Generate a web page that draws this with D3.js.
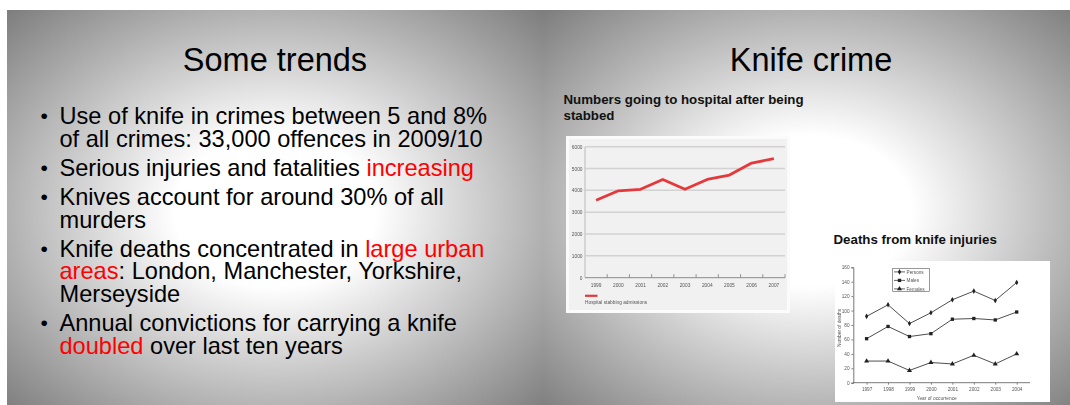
<!DOCTYPE html>
<html>
<head>
<meta charset="utf-8">
<script src="https://cdn.jsdelivr.net/npm/d3@7"></script>
<style>
  html, body { margin: 0; padding: 0; background: #fff; }
  svg { display: block; font-family: "Liberation Sans", Arial, sans-serif; }
</style>
</head>
<body>
<svg id="slides" width="1070" height="405"></svg>
<script>
// Hospital admissions for stab wounds, England
const hospYears = ["1999", "2000", "2001", "2002", "2003", "2004", "2005", "2006", "2007"];
const hospAdmissions = [3550, 3980, 4050, 4500, 4050, 4500, 4700, 5250, 5450];
const hospTicks = [0, 1000, 2000, 3000, 4000, 5000, 6000];
const hospSeriesName = "Hospital stabbing admissions";

// Deaths from knife injuries by year of occurrence
const deathYears = ["1997", "1998", "1999", "2000", "2001", "2002", "2003", "2004"];
const persons = [92, 108, 82, 97, 115, 127, 114, 139];
const males = [61, 78, 64, 68, 88, 89, 87, 98];
const females = [30, 30, 17, 28, 26, 38, 26, 40];
const deathTicks = [0, 20, 40, 60, 80, 100, 120, 140, 160];
const deathSeriesNames = ["Persons", "Males", "Females"];

// Left slide bullet points: each bullet is a list of lines, each line a list of [text, highlighted]
const bullets = [
  [[["Use of knife in crimes between 5 and 8%", false]],
   [["of all crimes: 33,000 offences in 2009/10", false]]],
  [[["Serious injuries and fatalities ", false], ["increasing", true]]],
  [[["Knives account for around 30% of all", false]],
   [["murders", false]]],
  [[["Knife deaths concentrated in ", false], ["large urban", true]],
   [["areas", true], [": London, Manchester, Yorkshire,", false]],
   [["Merseyside", false]]],
  [[["Annual convictions for carrying a knife", false]],
   [["doubled", true], [" over last ten years", false]]]
];

const svg = d3.select("#slides");
const defs = svg.append("defs");

// Slide background: white centre fading to grey
const grad = defs.append("radialGradient")
  .attr("id", "slideBg")
  .attr("cx", 0.5).attr("cy", 0.5).attr("r", 0.72);
grad.append("stop").attr("offset", 0.26).attr("stop-color", "#ffffff");
grad.append("stop").attr("offset", 1).attr("stop-color", "#7a7a7a");

// Soft look of the pasted chart pictures
const soft = defs.append("filter").attr("id", "soft")
  .attr("x", "-5%").attr("y", "-5%").attr("width", "110%").attr("height", "110%");
soft.append("feGaussianBlur").attr("stdDeviation", 0.45);

const slideW = 536, slideH = 402;
const slides = [{x: 7, y: 10, title: "Some trends"}, {x: 543, y: 10, title: "Knife crime"}];

svg.selectAll("rect.slide").data(slides).join("rect")
  .attr("class", "slide")
  .attr("x", d => d.x).attr("y", d => d.y)
  .attr("width", slideW).attr("height", slideH)
  .attr("fill", "url(#slideBg)");

svg.selectAll("text.title").data(slides).join("text")
  .attr("class", "title")
  .attr("x", d => d.x + slideW / 2)
  .attr("y", 71)
  .attr("text-anchor", "middle")
  .attr("font-size", 32.5)
  .attr("fill", "#000")
  .text(d => d.title);

// ---- Bullet list: one text block per bullet, one tspan row per line ----
const bulletFont = 23.6;
const lineGap = 22.5, bulletGap = 29.3;
let baseY = 124;
const list = svg.append("g").attr("font-size", bulletFont);
bullets.forEach(b => {
  list.append("text").attr("x", 40.5).attr("y", baseY - 1).attr("font-size", 21).text("•");
  const t = list.append("text").attr("y", baseY);
  b.forEach((line, i) => {
    line.forEach(([s, hi], j) => {
      const sp = t.append("tspan").attr("fill", hi ? "#ff0000" : "#000").text(s);
      if (j === 0) sp.attr("x", 59.5).attr("dy", i === 0 ? 0 : lineGap);
    });
  });
  baseY += (b.length - 1) * lineGap + bulletGap;
});

// ---- Chart subtitles ----
const sub = svg.append("g").attr("font-size", 13.3).attr("font-weight", "bold").attr("fill", "#111");
const sub1 = sub.append("text").attr("y", 104.3);
sub1.append("tspan").attr("x", 563.5).text("Numbers going to hospital after being");
sub1.append("tspan").attr("x", 563.5).attr("dy", 15.7).text("stabbed");
sub.append("text").attr("x", 833.5).attr("y", 243.5).text("Deaths from knife injuries");

// ---- Chart 1: hospital admissions ----
const c1 = svg.append("g").attr("filter", "url(#soft)");
c1.append("rect").attr("x", 566).attr("y", 136).attr("width", 224).attr("height", 177).attr("fill", "#fbfbfb");
c1.append("rect").attr("x", 569).attr("y", 139).attr("width", 218).attr("height", 171).attr("fill", "#f1f1f1");

const x1 = d3.scaleBand().domain(hospYears).range([585, 785]);
const y1 = d3.scaleLinear().domain([0, 6000]).range([277.7, 146.7]);

c1.append("g").selectAll("line").data(hospTicks.filter(v => v > 0)).join("line")
  .attr("x1", 585).attr("x2", 785)
  .attr("y1", d => y1(d)).attr("y2", d => y1(d))
  .attr("stroke", "#d2d2d2").attr("stroke-width", 1.5);

c1.append("line").attr("x1", 585).attr("x2", 585).attr("y1", y1(6000)).attr("y2", y1(0))
  .attr("stroke", "#c4c4c4").attr("stroke-width", 1.2);

const yAxis1 = c1.append("g").attr("transform", "translate(585,0)")
  .call(d3.axisLeft(y1).tickValues(hospTicks).tickSize(0).tickPadding(2.5).tickFormat(d3.format("d")));
yAxis1.select(".domain").remove();
yAxis1.selectAll("text").attr("font-size", 4.8).attr("fill", "#555").attr("font-family", "Liberation Sans, Arial, sans-serif");

// x axis with upward ticks at band boundaries
c1.append("line").attr("x1", 585).attr("x2", 785).attr("y1", y1(0)).attr("y2", y1(0))
  .attr("stroke", "#8a8a8a").attr("stroke-width", 1);
c1.append("g").selectAll("line").data(hospYears.slice(1).concat(["end"])).join("line")
  .attr("x1", d => d === "end" ? 785 : x1(d)).attr("x2", d => d === "end" ? 785 : x1(d))
  .attr("y1", y1(0)).attr("y2", y1(0) - 3.5)
  .attr("stroke", "#8a8a8a").attr("stroke-width", 0.9);
c1.append("g").selectAll("text").data(hospYears).join("text")
  .attr("x", d => x1(d) + x1.bandwidth() / 2).attr("y", 286.5)
  .attr("text-anchor", "middle").attr("font-size", 4.8).attr("fill", "#555")
  .text(d => d);

const line1 = d3.line().x((d, i) => x1(hospYears[i]) + x1.bandwidth() / 2).y(d => y1(d));
c1.append("path").datum(hospAdmissions)
  .attr("d", line1).attr("fill", "none")
  .attr("stroke", "#e5383b").attr("stroke-width", 2.8).attr("stroke-linejoin", "round");

c1.append("line").attr("x1", 585).attr("x2", 597.5).attr("y1", 295.8).attr("y2", 295.8)
  .attr("stroke", "#e5383b").attr("stroke-width", 2.2);
c1.append("text").attr("x", 585).attr("y", 303.5).attr("font-size", 4.8).attr("fill", "#555")
  .text(hospSeriesName);

// ---- Chart 2: deaths from knife injuries ----
const c2 = svg.append("g").attr("filter", "url(#soft)");
c2.append("rect").attr("x", 835).attr("y", 261).attr("width", 215).attr("height", 141).attr("fill", "#fff");

const x2 = d3.scalePoint().domain(deathYears).range([853.3, 1030]).padding(0.62);
const y2 = d3.scaleLinear().domain([0, 160]).range([382.7, 267.3]);

const yAxis2 = c2.append("g").attr("transform", "translate(853.3,0)")
  .call(d3.axisLeft(y2).tickValues(deathTicks).tickSize(2).tickPadding(1.8));
const xAxis2 = c2.append("g").attr("transform", `translate(0,${y2(0)})`)
  .call(d3.axisBottom(x2).tickSize(2).tickPadding(3.2));
// extend the baseline to the plot edge
xAxis2.select(".domain").attr("d", `M853.3,0H1030`);
[yAxis2, xAxis2].forEach(a => {
  a.select(".domain").attr("stroke", "#555").attr("stroke-width", 0.8);
  a.selectAll(".tick line").attr("stroke", "#555").attr("stroke-width", 0.7);
  a.selectAll("text").attr("font-size", 4.7).attr("fill", "#555").attr("font-family", "Liberation Sans, Arial, sans-serif");
});

c2.append("text").attr("x", 936.7).attr("y", 399.5).attr("text-anchor", "middle")
  .attr("font-size", 4.8).attr("fill", "#555").text("Year of occurrence");
c2.append("text").attr("transform", "translate(840.8,328) rotate(-90)").attr("text-anchor", "middle")
  .attr("font-size", 4.8).attr("fill", "#555").text("Number of deaths");

const series2 = [
  {name: deathSeriesNames[0], values: persons, sym: d3.symbolDiamond, size: 9},
  {name: deathSeriesNames[1], values: males, sym: d3.symbolSquare, size: 11},
  {name: deathSeriesNames[2], values: females, sym: d3.symbolTriangle, size: 11}
];
const line2 = d3.line().x((d, i) => x2(deathYears[i])).y(d => y2(d));
series2.forEach(s => {
  c2.append("path").datum(s.values).attr("d", line2).attr("fill", "none")
    .attr("stroke", "#3a3a3a").attr("stroke-width", 0.9);
  c2.append("g").selectAll("path").data(s.values).join("path")
    .attr("transform", (d, i) => `translate(${x2(deathYears[i])},${y2(d)})`)
    .attr("d", d3.symbol(s.sym, s.size)).attr("fill", "#222");
});

// legend
const lg = c2.append("g");
lg.append("rect").attr("x", 892.7).attr("y", 268.3).attr("width", 36.6).attr("height", 23.4)
  .attr("fill", "#fff").attr("stroke", "#555").attr("stroke-width", 0.6);
series2.forEach((s, i) => {
  const ly = 271.9 + i * 8.5;
  lg.append("line").attr("x1", 894).attr("x2", 905).attr("y1", ly).attr("y2", ly)
    .attr("stroke", "#3a3a3a").attr("stroke-width", 0.8);
  lg.append("path").attr("transform", `translate(899.5,${ly})`).attr("d", d3.symbol(s.sym, s.size)).attr("fill", "#222");
  lg.append("text").attr("x", 906.5).attr("y", ly + 1.7).attr("font-size", 4.7).attr("fill", "#555").text(s.name);
});
</script>
</body>
</html>
